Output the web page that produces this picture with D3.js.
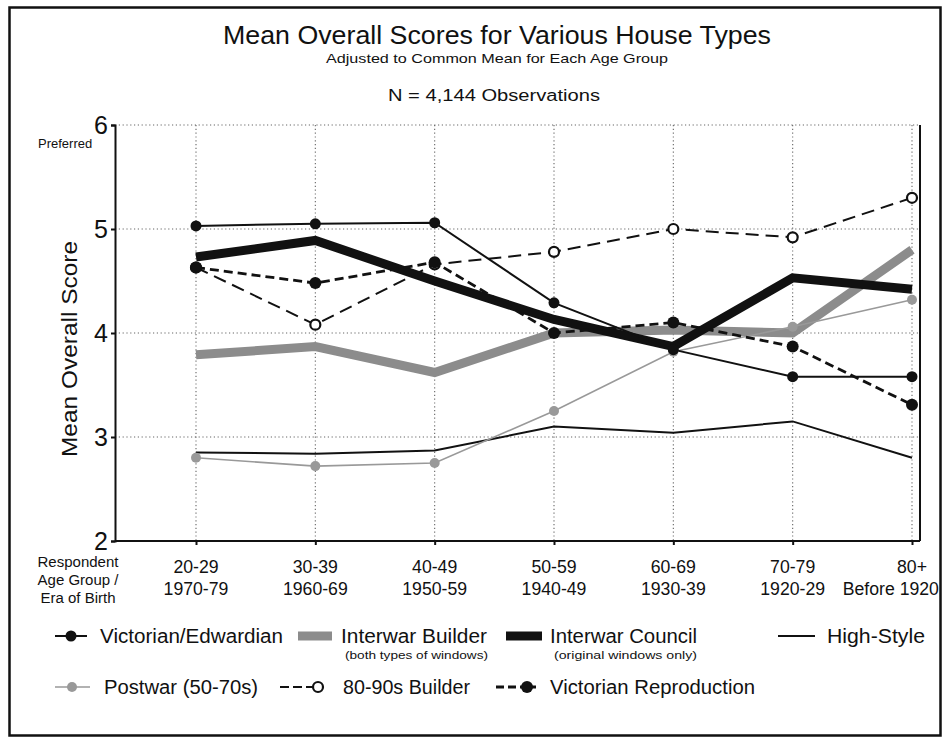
<!DOCTYPE html>
<html><head><meta charset="utf-8">
<script src="https://cdn.jsdelivr.net/npm/d3@7"></script>
<style>
html,body{margin:0;padding:0;background:#fff;}
svg text{font-family:"Liberation Sans",Arial,sans-serif;fill:#111;}
</style></head>
<body><svg id="c" width="942" height="738"></svg>
<script>
const ageGroups = ["20-29","30-39","40-49","50-59","60-69","70-79","80+"];
const birthEras = ["1970-79","1960-69","1950-59","1940-49","1930-39","1920-29","Before 1920"];
const yTicks = [2,3,4,5,6];

const victorianEdwardian = [5.03,5.05,5.06,4.29,3.84,3.58,3.58];
const interwarBuilder    = [3.79,3.87,3.62,4.00,4.03,4.00,4.80];
const interwarCouncil    = [4.73,4.89,4.50,4.13,3.87,4.53,4.42];
const highStyle          = [2.85,2.84,2.87,3.10,3.04,3.15,2.80];
const postwar            = [2.80,2.72,2.75,3.25,3.82,4.06,4.32];
const builder8090        = [4.63,4.08,4.66,4.78,5.00,4.92,5.30];
const victorianRepro     = [4.63,4.48,4.68,4.00,4.10,3.87,3.31];

const seriesNames = ["Interwar Builder","Interwar Council","High-Style","Postwar (50-70s)","Victorian/Edwardian","80-90s Builder","Victorian Reproduction"];

const svg = d3.select("#c");
const x = d3.scalePoint().domain(ageGroups).range([196,912]);
const y = d3.scaleLinear().domain([2,6]).range([541,125]);
const L = 115, R = 920;

// frame
svg.append("rect").attr("x",9.5).attr("y",7.5).attr("width",931).attr("height",728)
  .attr("fill","none").attr("stroke","#111").attr("stroke-width",2.5);

// titles
svg.append("text").attr("x",497).attr("y",44).attr("text-anchor","middle")
  .style("font-size","26px").attr("textLength",548).attr("lengthAdjust","spacingAndGlyphs")
  .text("Mean Overall Scores for Various House Types");
svg.append("text").attr("x",497).attr("y",63).attr("text-anchor","middle")
  .style("font-size","13px").attr("textLength",342).attr("lengthAdjust","spacingAndGlyphs")
  .text("Adjusted to Common Mean for Each Age Group");
svg.append("text").attr("x",494).attr("y",101).attr("text-anchor","middle")
  .style("font-size","16px").attr("textLength",212).attr("lengthAdjust","spacingAndGlyphs")
  .text("N = 4,144 Observations");

// grid
const grid = svg.append("g").attr("stroke","#666").attr("stroke-width",1.1).attr("stroke-dasharray","1.2,2.6");
grid.selectAll("line.h").data(yTicks.filter(d=>d>2)).join("line")
  .attr("x1",L).attr("x2",R).attr("y1",d=>y(d)).attr("y2",d=>y(d));
grid.selectAll("line.v").data(ageGroups).join("line")
  .attr("x1",d=>x(d)).attr("x2",d=>x(d)).attr("y1",y(6)).attr("y2",y(2));

// axes
const yAxis = svg.append("g").attr("transform",`translate(${L},0)`)
  .call(d3.axisLeft(y).tickValues(yTicks).tickSize(4).tickPadding(3).tickFormat(d3.format("d")));
yAxis.select(".domain").attr("stroke","#111").attr("stroke-width",2);
yAxis.selectAll("text").style("font-size","25px").attr("fill","#111");
yAxis.selectAll(".tick line").attr("stroke","#111").attr("stroke-width",2);

const xAxis = svg.append("g").attr("transform",`translate(0,${y(2)})`)
  .call(d3.axisBottom(x).tickSize(4).tickFormat(""));
xAxis.select(".domain").attr("d",`M${L},0H${R}`).attr("stroke","#111").attr("stroke-width",2);
xAxis.selectAll(".tick line").attr("stroke","#111").attr("stroke-width",2);
svg.append("line").attr("x1",R).attr("x2",R).attr("y1",y(6)).attr("y2",y(2))
  .attr("stroke","#111").attr("stroke-width",2);

// x labels
const sx = 0.93;
const xl = svg.append("g");
xl.selectAll("text.a").data(ageGroups).join("text")
  .attr("x",d=>x(d)).attr("y",573).attr("text-anchor","middle").style("font-size","19px")
  .attr("transform",d=>`translate(${x(d)},0) scale(${sx},1) translate(${-x(d)},0)`).text(d=>d);
xl.selectAll("text.b").data(birthEras).join("text")
  .attr("y",595).attr("text-anchor","middle").style("font-size","19px").text(d=>d)
  .each(function(d,i){
    const cx = x(ageGroups[i]);
    const w = this.getComputedTextLength()*sx;
    const px = Math.min(cx, 939 - w/2);
    d3.select(this).attr("x",px).attr("transform",`translate(${px},0) scale(${sx},1) translate(${-px},0)`);
  });
["Respondent","Age Group /","Era of Birth"].forEach((t,i)=>{
  svg.append("text").attr("x",78).attr("y",567+i*18).attr("text-anchor","middle").style("font-size","15.5px")
    .attr("transform",`translate(78,0) scale(0.97,1) translate(-78,0)`).text(t);
});
svg.append("text").attr("x",38).attr("y",148).style("font-size","13px").text("Preferred");
svg.append("text").attr("transform","translate(77,349) rotate(-90)").attr("text-anchor","middle")
  .style("font-size","22px").attr("textLength",216).attr("lengthAdjust","spacingAndGlyphs").text("Mean Overall Score");

// series
const line = d3.line().x((d,i)=>x(ageGroups[i])).y(d=>y(d));
const grey = "#8c8c8c";
const styles = {
  "Interwar Builder":{data:interwarBuilder,stroke:grey,w:9,dash:null,marker:null},
  "Interwar Council":{data:interwarCouncil,stroke:"#111",w:9,dash:null,marker:null},
  "High-Style":{data:highStyle,stroke:"#111",w:2,dash:null,marker:null},
  "Postwar (50-70s)":{data:postwar,stroke:"#999",w:1.6,dash:null,marker:"sq"},
  "Victorian/Edwardian":{data:victorianEdwardian,stroke:"#111",w:2,dash:null,marker:"dot"},
  "80-90s Builder":{data:builder8090,stroke:"#111",w:2,dash:"13,7",marker:"open"},
  "Victorian Reproduction":{data:victorianRepro,stroke:"#111",w:2.8,dash:"9,5",marker:"big"}
};
const plot = svg.append("g");
seriesNames.forEach(n=>{
  const s = styles[n];
  plot.append("path").attr("d",line(s.data)).attr("fill","none").attr("stroke",s.stroke)
    .attr("stroke-width",s.w).attr("stroke-dasharray",s.dash).attr("stroke-linejoin","miter");
});
function drawMarker(g,type,cx,cy){
  if(type==="dot") g.append("circle").attr("cx",cx).attr("cy",cy).attr("r",5.5).attr("fill","#111");
  else if(type==="big") g.append("circle").attr("cx",cx).attr("cy",cy).attr("r",6).attr("fill","#111");
  else if(type==="open") g.append("circle").attr("cx",cx).attr("cy",cy).attr("r",5).attr("fill","#fff").attr("stroke","#111").attr("stroke-width",2.2);
  else if(type==="sq") g.append("circle").attr("cx",cx).attr("cy",cy).attr("r",5).attr("fill","#999");
}
["Postwar (50-70s)","80-90s Builder","Victorian/Edwardian","Victorian Reproduction"].forEach(n=>{
  const s = styles[n];
  s.data.forEach((v,i)=>drawMarker(plot,s.marker,x(ageGroups[i]),y(v)));
});

// legend
const lg = svg.append("g");
function legItem(n,x1,x2,ty,tx,tw,sub,mx){
  const s = styles[n];
  lg.append("line").attr("x1",x1).attr("x2",x2).attr("y1",ty).attr("y2",ty)
    .attr("stroke",s.stroke).attr("stroke-width",s.w).attr("stroke-dasharray",s.dash?(s.marker==="open"?"9,4":"8,4"):null);
  if(s.marker) drawMarker(lg,s.marker,mx,ty);
  lg.append("text").attr("x",tx).attr("y",ty+7).style("font-size","20px")
    .attr("textLength",tw).attr("lengthAdjust","spacingAndGlyphs").text(n);
  if(sub) lg.append("text").attr("x",tx+4).attr("y",ty+23).style("font-size","11px")
    .attr("textLength",143).attr("lengthAdjust","spacingAndGlyphs").text(sub);
}
legItem("Victorian/Edwardian",55,87,636,100,183,null,71);
legItem("Interwar Builder",298,332,636,341,146,"(both types of windows)");
legItem("Interwar Council",506,542,636,550,147,"(original windows only)");
legItem("High-Style",778,815,636,827,98,null);
legItem("Postwar (50-70s)",55,90,687,104,154,null,72);
legItem("80-90s Builder",280,322,687,343,127,null,318);
legItem("Victorian Reproduction",496,536,687,550,205,null,527);
</script></body></html>
